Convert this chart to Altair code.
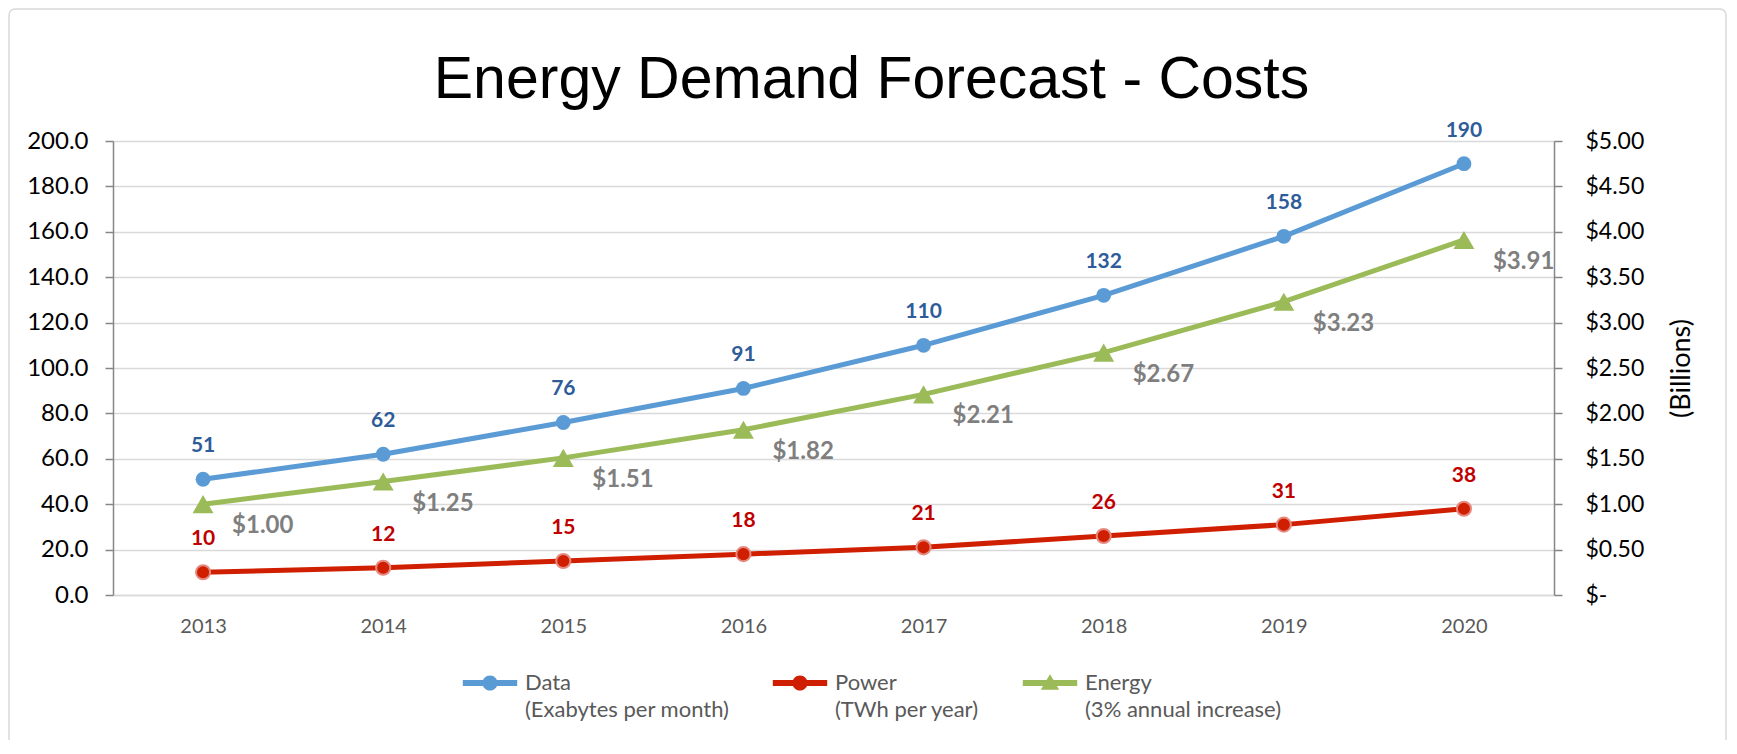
import altair as alt
import pandas as pd

# ---------------- data ----------------
years = ["2013", "2014", "2015", "2016", "2017", "2018", "2019", "2020"]
data_exabytes = [51, 62, 76, 91, 110, 132, 158, 190]
power_twh = [10, 12, 15, 18, 21, 26, 31, 38]
energy_billions = [1.00, 1.25, 1.51, 1.82, 2.21, 2.67, 3.23, 3.91]

series_names = ["Data", "Power", "Energy"]
series_units = ["(Exabytes per month)", "(TWh per year)", "(3% annual increase)"]
line_colors = ["#5B9BD5", "#D01F00", "#9BBB59"]
label_colors = ["#2E5C99", "#C00000", "#7F7F7F"]

left_ticks = [0, 20, 40, 60, 80, 100, 120, 140, 160, 180, 200]
right_ticks = [0, 0.5, 1.0, 1.5, 2.0, 2.5, 3.0, 3.5, 4.0, 4.5, 5.0]

title_text = "Energy Demand Forecast - Costs"
right_axis_title = "(Billions)"

# legend symbols: thin bar + marker, filled (unit-square paths)
BAR = "M-3.4,-0.38L3.4,-0.38L3.4,0.38L-3.4,0.38Z"
CIRC = "M-0.95,0A0.95,0.95,0,1,1,0.95,0A0.95,0.95,0,1,1,-0.95,0Z"
TRI = "M0,-1.1L1.15,0.85L-1.15,0.85Z"
legend_shapes = [BAR + CIRC, BAR + CIRC, BAR + TRI]

left_df = pd.DataFrame({
    "year": years * 2,
    "series": [series_names[0]] * len(years) + [series_names[1]] * len(years),
    "value": data_exabytes + power_twh,
})
energy_df = pd.DataFrame({
    "year": years,
    "series": [series_names[2]] * len(years),
    "value": energy_billions,
})
legend_df = pd.DataFrame({"series": series_names})
frame_df = pd.DataFrame({"k": [0]})

FONT = "Lato"
W, H = 1441, 454

# ---------------- encodings ----------------
x_enc = alt.X(
    "year:N", sort=years,
    scale=alt.Scale(type="point", padding=0.5),
    axis=alt.Axis(title=None, labelAngle=0, ticks=False, domain=True,
                  domainColor="#D9D9D9", domainWidth=1.5, labelColor="#595959",
                  labelFontSize=20, labelPadding=21, grid=False, labelFont=FONT),
)

y_left = alt.Y(
    "value:Q",
    scale=alt.Scale(domain=[0, 200], nice=False),
    axis=alt.Axis(orient="left", title=None, values=left_ticks, format=".1f",
                  labelFont=FONT, labelFontSize=24, labelColor="#000000",
                  labelPadding=17, tickSize=8, tickColor="#868686", tickWidth=1.5,
                  domainColor="#868686", domainWidth=1.5, grid=True,
                  gridColor="#D9D9D9", gridWidth=1.5),
)

y_right = alt.Y(
    "value:Q",
    scale=alt.Scale(domain=[0, 5], nice=False),
    axis=alt.Axis(orient="right", values=right_ticks,
                  labelExpr="datum.value == 0 ? '$-' : '$' + format(datum.value, '.2f')",
                  labelFont=FONT, labelFontSize=23, labelColor="#000000",
                  labelPadding=23, tickSize=8, tickColor="#868686", tickWidth=1.5,
                  domainColor="#868686", domainWidth=1.5, grid=False,
                  title=right_axis_title, titleAngle=270, titleBaseline="top",
                  titleFont=FONT, titleFontSize=27, titleFontWeight="normal",
                  titleColor="#000000", titlePadding=25),
)

# ---------------- frame ----------------
frame = alt.Chart(frame_df).mark_rect(
    filled=False, stroke="#D9D9D9", strokeWidth=1.5, cornerRadius=6
).encode(
    x=alt.value(-104), x2=alt.value(1613), y=alt.value(-132), y2=alt.value(640)
)

# ---------------- left group (Data, Power) ----------------
left_layers = []
for i in range(2):
    base = alt.Chart(left_df).transform_filter(alt.datum.series == series_names[i])
    left_layers.append(base.mark_line(strokeWidth=5, color=line_colors[i]).encode(x=x_enc, y=y_left))
for i in range(2):
    base = alt.Chart(left_df).transform_filter(alt.datum.series == series_names[i])
    if i == 0:
        pts = base.mark_point(filled=True, size=220, opacity=1, shape="circle",
                              color=line_colors[i])
    else:
        pts = base.mark_point(filled=True, size=200, opacity=1, shape="circle",
                              color=line_colors[i], stroke="#E58A80", strokeWidth=2)
    left_layers.append(pts.encode(x=x_enc, y=y_left))
    left_layers.append(
        base.mark_text(dy=-33, font=FONT, fontSize=21, fontWeight="bold",
                       color=label_colors[i]).encode(
            x=x_enc, y=y_left, text=alt.Text("value:Q", format="d")))

label_expr = "".join(
    f"datum.label === '{n}' ? ['{n}', '{u}'] : "
    for n, u in zip(series_names, series_units)
) + "datum.label"

legend_def = alt.Legend(
    title=None, orient="none", legendX=366, legendY=531,
    direction="horizontal", columns=3, columnPadding=42,
    labelExpr=label_expr, labelFont=FONT, labelFontSize=22,
    labelColor="#595959", labelOffset=24, labelLimit=400,
    symbolSize=256,
)

legend_layer = alt.Chart(legend_df).transform_filter("false").mark_point(
    filled=True, size=256, opacity=1
).encode(
    color=alt.Color("series:N", scale=alt.Scale(domain=series_names, range=line_colors),
                    legend=legend_def),
    shape=alt.Shape("series:N", scale=alt.Scale(domain=series_names, range=legend_shapes),
                    legend=legend_def),
)
left_layers.append(legend_layer)

left_group = alt.layer(*left_layers)

# ---------------- right group (Energy) ----------------
energy_line = alt.Chart(energy_df).mark_line(strokeWidth=5, color=line_colors[2]).encode(
    x=x_enc, y=y_right)
energy_points = alt.Chart(energy_df).mark_point(
    filled=True, size=440, opacity=1, shape="triangle-up", color=line_colors[2]).encode(
    x=x_enc, y=y_right)
energy_labels = alt.Chart(energy_df).mark_text(
    align="left", dx=29, dy=22, font=FONT, fontSize=24, fontWeight="bold",
    color=label_colors[2]).encode(
    x=x_enc, y=y_right, text=alt.Text("value:Q", format="$.2f"))

right_group = alt.layer(energy_line, energy_points, energy_labels)

chart = alt.layer(frame, left_group, right_group).resolve_scale(
    y="independent"
).properties(
    width=W, height=H,
    autosize=alt.AutoSizeParams(type="none"),
    padding={"left": 105, "top": 133, "right": 174, "bottom": 145},
    title=alt.TitleParams(
        text=title_text, font="Liberation Sans", fontSize=59,
        fontWeight="normal", color="#000000", anchor="middle",
        baseline="alphabetic", offset=-149, dx=38,
    ),
).configure(
    style={"guide-label": {"lineHeight": 27}},
    background="#FFFFFF",
).configure_view(strokeWidth=0)

chart.save("out.html", embed_options={"renderer": "svg", "actions": False})
